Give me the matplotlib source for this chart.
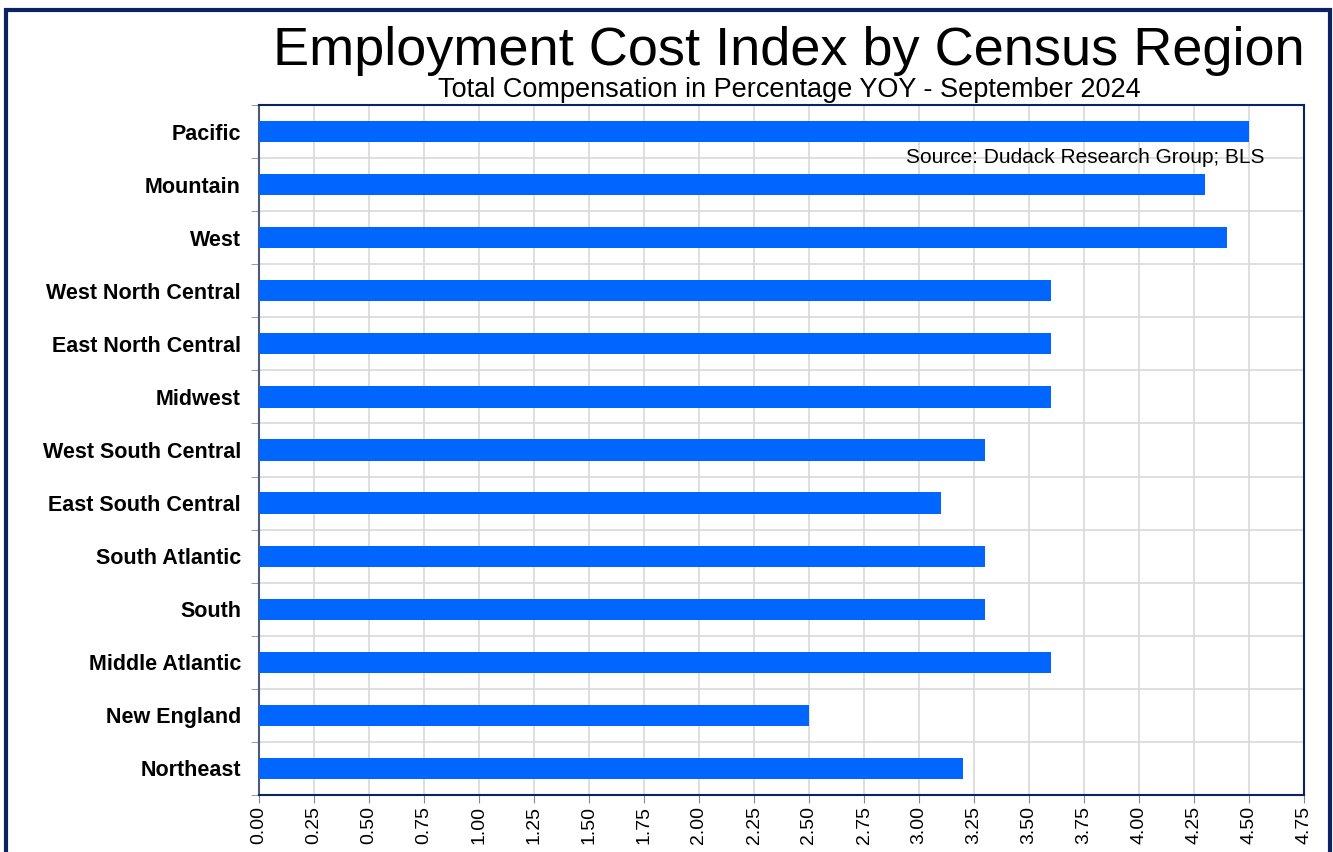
import matplotlib
matplotlib.use("Agg")
import matplotlib.pyplot as plt
from matplotlib.patches import Rectangle
import numpy as np

plt.rcParams['font.family'] = ['Liberation Sans', 'DejaVu Sans']

regions = ["Pacific", "Mountain", "West", "West North Central", "East North Central",
           "Midwest", "West South Central", "East South Central", "South Atlantic",
           "South", "Middle Atlantic", "New England", "Northeast"]
values = [4.5, 4.3, 4.4, 3.6, 3.6, 3.6, 3.3, 3.1, 3.3, 3.3, 3.6, 2.5, 3.2]
xticks = np.arange(0, 4.76, 0.25)
xticklabels = [f"{t:.2f}" for t in xticks]

W, H = 1333, 852
fig = plt.figure(figsize=(W/100, H/100), dpi=100)
fig.patch.set_facecolor('white')

# outer border
fig.add_artist(Rectangle((6/W, -0.05), (1330-6)/W, 1.05 - 10/H,
                         transform=fig.transFigure, fill=False,
                         edgecolor='#0a2463', linewidth=3, clip_on=False))

ax = fig.add_axes([259/W, 1-795/H, (1304-259)/W, (795-105)/H])
n = len(regions)
ypos = np.arange(n)[::-1]
ax.barh(ypos, values, height=0.4, color='#0066FF', zorder=3)
ax.set_ylim(-0.5, n-0.5)
ax.set_xlim(0, 4.75)
ax.set_xticks(xticks)
ax.set_xticklabels(xticklabels, rotation=90, fontsize=14)
ax.set_yticks(ypos)
ax.set_yticklabels(regions, fontsize=15.5, fontweight='bold')
ax.tick_params(axis='y', length=0, pad=13)
ax.set_yticks(np.arange(-0.5, n, 1), minor=True)
ax.tick_params(axis='y', which='minor', length=6, color='#888888')
ax.tick_params(axis='x', length=6, color='#888888', pad=2)
ax.grid(True, which='major', axis='x', color='#d9d9d9', linewidth=1.2, zorder=0)
ax.grid(True, which='minor', axis='y', color='#d9d9d9', linewidth=1.2, zorder=0)
for s in ['top', 'right', 'bottom']:
    ax.spines[s].set_color('#0a2463')
    ax.spines[s].set_linewidth(1.5)
ax.spines['left'].set_color('#4a5a7a')
ax.spines['left'].set_linewidth(1.5)

ax.text(0.619, 0.924, "Source: Dudack Research Group; BLS", transform=ax.transAxes,
        fontsize=15, ha='left', va='center', zorder=4)

fig.text(789/W, 1-51/H, "Employment Cost Index by Census Region", fontsize=39,
         ha='center', va='center')
fig.text(789/W, 1-90/H, "Total Compensation in Percentage YOY - September 2024",
         fontsize=19.5, ha='center', va='center')

fig.savefig("out.png", dpi=100, facecolor='white')
